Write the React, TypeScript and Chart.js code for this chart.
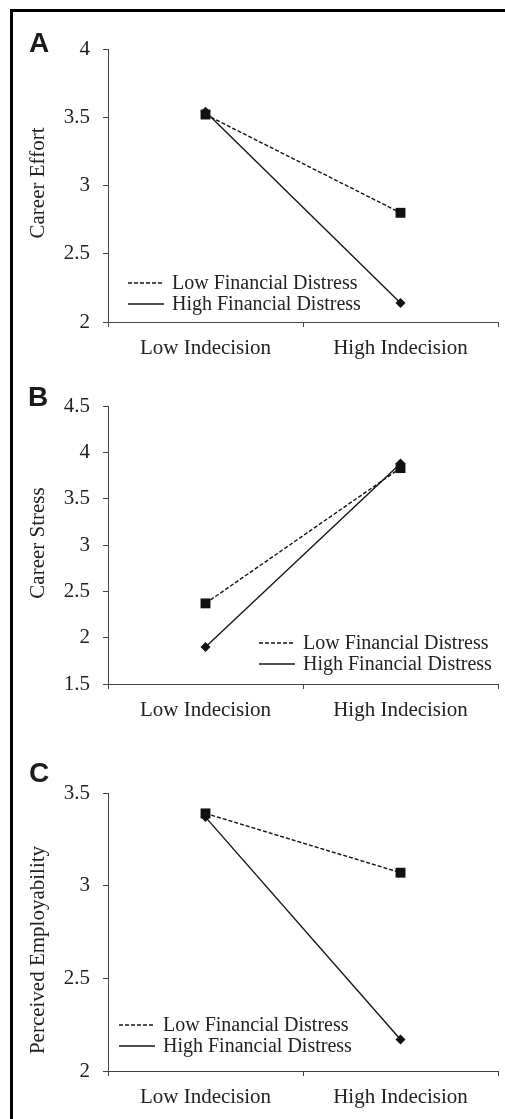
import React, { useEffect, useRef } from "react";
import { Chart, registerables } from "chart.js";

Chart.register(...registerables);

const categories = ["Low Indecision", "High Indecision"];
const seriesLabels = ["Low Financial Distress", "High Financial Distress"];

const effortLowFD = [3.52, 2.8];
const effortHighFD = [3.54, 2.14];
const stressLowFD = [2.37, 3.83];
const stressHighFD = [1.9, 3.88];
const employLowFD = [3.39, 3.07];
const employHighFD = [3.37, 2.17];

const effortTicks = [2, 2.5, 3, 3.5, 4];
const stressTicks = [1.5, 2, 2.5, 3, 3.5, 4, 4.5];
const employTicks = [2, 2.5, 3, 3.5];

const SERIF = '"Liberation Serif", "Times New Roman", serif';
const INK = "#222";

const lineLegend = {
  id: "lineLegend",
  afterDraw(chart: any, _args: any, opts: any) {
    const ctx = chart.ctx;
    ctx.save();
    chart.data.datasets.forEach((ds: any, i: number) => {
      const y = opts.y + i * opts.gap;
      ctx.beginPath();
      ctx.setLineDash(ds.borderDash || []);
      ctx.lineWidth = ds.borderWidth;
      ctx.strokeStyle = ds.borderColor;
      ctx.moveTo(opts.x, y);
      ctx.lineTo(opts.x + opts.len, y);
      ctx.stroke();
      ctx.setLineDash([]);
      ctx.fillStyle = INK;
      ctx.font = `20px ${SERIF}`;
      ctx.textBaseline = "middle";
      ctx.textAlign = "left";
      ctx.fillText(ds.label, opts.x + opts.len + opts.textGap, y + 1);
    });
    ctx.restore();
  },
};

const yTitle = {
  id: "yTitle",
  afterDraw(chart: any, _args: any, opts: any) {
    const ctx = chart.ctx;
    ctx.save();
    ctx.translate(opts.x, opts.y);
    ctx.rotate(-Math.PI / 2);
    ctx.fillStyle = INK;
    ctx.font = `21px ${SERIF}`;
    ctx.textAlign = "center";
    ctx.textBaseline = "middle";
    ctx.fillText(opts.text, 0, 0);
    ctx.restore();
  },
};

type PanelProps = {
  letter: string;
  title: string;
  titleY: number;
  low: number[];
  high: number[];
  ticks: number[];
  top: number;
  height: number;
  plotTop: number;
  plotBottom: number;
  legendX: number;
  legendY: number;
  letterTop: number;
  letterLeft: number;
};

function Panel(p: PanelProps) {
  const ref = useRef<HTMLCanvasElement | null>(null);
  useEffect(() => {
    if (!ref.current) return;
    const chart = new Chart(ref.current, {
      type: "line",
      data: {
        labels: categories,
        datasets: [
          {
            label: seriesLabels[0],
            data: p.low,
            borderColor: "#151515",
            backgroundColor: "#111",
            borderWidth: 1.4,
            borderDash: [4, 2],
            pointStyle: "rect",
            pointRadius: 7,
            pointBorderWidth: 0,
            pointBackgroundColor: "#111",
            tension: 0,
          },
          {
            label: seriesLabels[1],
            data: p.high,
            borderColor: "#151515",
            backgroundColor: "#111",
            borderWidth: 1.4,
            pointStyle: "rectRot",
            pointRadius: 5,
            pointBorderWidth: 0,
            pointBackgroundColor: "#111",
            tension: 0,
          },
        ],
      },
      options: {
        animation: false,
        responsive: false,
        devicePixelRatio: 1,
        layout: { padding: { top: p.plotTop, right: 5, left: 0, bottom: 0 } },
        plugins: {
          legend: { display: false },
          tooltip: { enabled: false },
          lineLegend: { x: p.legendX, y: p.legendY, gap: 21, len: 36, textGap: 8 },
          yTitle: { x: 38, y: p.titleY, text: p.title },
        } as any,
        scales: {
          x: {
            type: "category",
            offset: true,
            grid: {
              display: true,
              offset: true,
              drawOnChartArea: false,
              drawTicks: true,
              tickLength: 5,
              color: "#444",
            },
            border: { display: true, color: "#444", width: 1 },
            ticks: {
              color: INK,
              font: { family: SERIF, size: 21 },
              padding: 9,
              maxRotation: 0,
            },
            afterFit: (s: any) => {
              s.height = p.height - p.plotBottom;
            },
          },
          y: {
            type: "linear",
            min: p.ticks[0],
            max: p.ticks[p.ticks.length - 1],
            afterBuildTicks: (s: any) => {
              s.ticks = p.ticks.map((v) => ({ value: v }));
            },
            grid: {
              display: true,
              drawOnChartArea: false,
              drawTicks: true,
              tickLength: 5,
              color: "#444",
            },
            border: { display: true, color: "#444", width: 1 },
            ticks: {
              color: INK,
              font: { family: SERIF, size: 21 },
              padding: 13,
              callback: (v: any) => String(v),
            },
            afterFit: (s: any) => {
              s.width = 108;
            },
          },
        },
      },
      plugins: [lineLegend as any, yTitle as any],
    });
    return () => chart.destroy();
  }, []);
  return (
    <>
      <canvas
        ref={ref}
        width={505}
        height={p.height}
        style={{ position: "absolute", left: 0, top: p.top, width: 505, height: p.height }}
      />
      <div
        style={{
          position: "absolute",
          left: p.letterLeft,
          top: p.letterTop,
          font: 'bold 28px "Liberation Sans", Arial, sans-serif',
          lineHeight: "28px",
          color: "#1a1a1a",
        }}
      >
        {p.letter}
      </div>
    </>
  );
}

export default function App() {
  return (
    <div
      style={{
        position: "absolute",
        left: 0,
        top: 0,
        width: 505,
        height: 1119,
        overflow: "hidden",
        background: "#fff",
      }}
    >
      <div
        style={{
          position: "absolute",
          left: 10,
          top: 9,
          width: 700,
          height: 1300,
          borderTop: "3px solid #000",
          borderLeft: "3px solid #000",
        }}
      />
      <Panel
        letter="A"
        title="Career Effort"
        titleY={183}
        low={effortLowFD}
        high={effortHighFD}
        ticks={effortTicks}
        top={0}
        height={370}
        plotTop={49}
        plotBottom={322}
        legendX={128}
        legendY={283}
        letterTop={29}
        letterLeft={29}
      />
      <Panel
        letter="B"
        title="Career Stress"
        titleY={173}
        low={stressLowFD}
        high={stressHighFD}
        ticks={stressTicks}
        top={370}
        height={370}
        plotTop={36}
        plotBottom={314}
        legendX={259}
        legendY={273}
        letterTop={383}
        letterLeft={28}
      />
      <Panel
        letter="C"
        title="Perceived Employability"
        titleY={210}
        low={employLowFD}
        high={employHighFD}
        ticks={employTicks}
        top={740}
        height={379}
        plotTop={53}
        plotBottom={331}
        legendX={119}
        legendY={285}
        letterTop={759}
        letterLeft={29}
      />
    </div>
  );
}
